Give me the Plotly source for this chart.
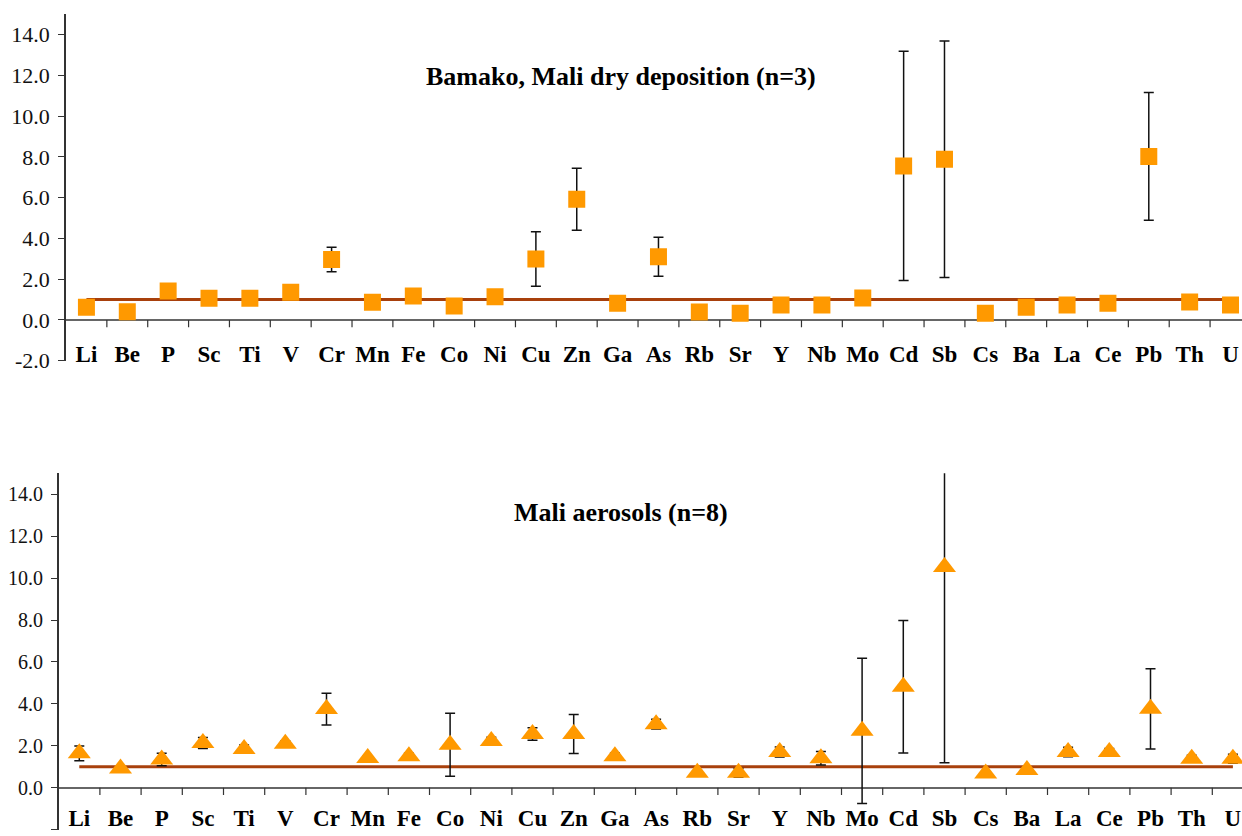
import plotly.graph_objects as go

elements = ["Li", "Be", "P", "Sc", "Ti", "V", "Cr", "Mn", "Fe", "Co", "Ni", "Cu", "Zn", "Ga", "As",
            "Rb", "Sr", "Y", "Nb", "Mo", "Cd", "Sb", "Cs", "Ba", "La", "Ce", "Pb", "Th", "U"]

dry_mean = [0.62, 0.41, 1.42, 1.06, 1.06, 1.36, 2.97, 0.87, 1.18, 0.69, 1.14, 2.99, 5.92, 0.82, 3.10,
            0.39, 0.33, 0.74, 0.74, 1.08, 7.55, 7.88, 0.33, 0.62, 0.74, 0.82, 8.02, 0.88, 0.74]
dry_err = [0.10, 0.10, 0.15, 0.10, 0.10, 0.15, 0.60, 0.10, 0.15, 0.10, 0.15, 1.34, 1.52, 0.10, 0.95,
           0.05, 0.05, 0.10, 0.10, 0.20, 5.62, 5.80, 0.05, 0.10, 0.10, 0.10, 3.13, 0.15, 0.10]

aer_mean = [1.64, 0.91, 1.34, 2.13, 1.84, 2.09, 3.75, 1.42, 1.50, 2.05, 2.23, 2.56, 2.56, 1.50, 3.03,
            0.71, 0.71, 1.70, 1.40, 2.71, 4.82, 10.53, 0.67, 0.84, 1.70, 1.70, 3.76, 1.38, 1.38]
aer_err = [0.35, 0.10, 0.30, 0.26, 0.20, 0.15, 0.76, 0.09, 0.14, 1.50, 0.17, 0.30, 0.93, 0.16, 0.23,
           0.10, 0.21, 0.24, 0.32, 3.46, 3.16, 9.34, 0.10, 0.10, 0.23, 0.17, 1.92, 0.17, 0.22]

reference_ratio = [1.0] * len(elements)

titles = ["Bamako, Mali dry deposition (n=3)", "Mali aerosols (n=8)"]
y_ticks = [-2.0, 0.0, 2.0, 4.0, 6.0, 8.0, 10.0, 12.0, 14.0]

ORANGE = "#FF9900"
LINE = "#A8400C"
W, H = 1242, 836
idx = list(range(len(elements)))

fig = go.Figure()

panels = [
    dict(mean=dry_mean, err=dry_err, symbol="square", size=17, xa="x", ya="y"),
    dict(mean=aer_mean, err=aer_err, symbol="triangle-up", size=20, xa="x2", ya="y2"),
]

for p in panels:
    fig.add_trace(go.Scatter(x=idx, y=reference_ratio, mode="lines",
                             line=dict(color=LINE, width=3), xaxis=p["xa"], yaxis=p["ya"],
                             showlegend=False, hoverinfo="skip"))
    fig.add_trace(go.Scatter(x=idx, y=p["mean"], mode="markers",
                             marker=dict(symbol=p["symbol"], size=p["size"], color=ORANGE,
                                         line=dict(width=0)),
                             error_y=dict(type="data", array=p["err"], visible=True,
                                          color="#111111", thickness=1.5, width=5),
                             xaxis=p["xa"], yaxis=p["ya"], showlegend=False))

# pixel geometry (screen px) -> paper domains
def px_x(p):
    return p / W

def px_y(p):
    return 1 - p / H

top_left, bot_left = 66.0, 58.7
top_w, bot_w = 40.86, 41.2
top_dom = [px_y(361.2), px_y(14.0)]
bot_dom = [px_y(830.0), px_y(473.3)]

xcommon = dict(tickmode="array", tickvals=idx, ticktext=["<b>" + e + "</b>" for e in elements],
               showline=False, showgrid=False, zeroline=False, ticks="",
               ticklabelposition="outside", automargin=False,
               tickfont=dict(family="Liberation Serif", size=23, color="#000000"))
ycommon = dict(range=[-2.02, 15], tickmode="array", tickvals=y_ticks,
               ticktext=[f"{v:.1f}" for v in y_ticks], showgrid=False, automargin=False,
               showline=True, linecolor="#333333", linewidth=1.5,
               ticks="outside", ticklen=6, tickcolor="#333333", tickwidth=1.2,
               ticklabelstandoff=4,
               zeroline=True, zerolinecolor="#666666", zerolinewidth=1.5)

fig.update_layout(
    width=W, height=H, margin=dict(l=0, r=0, t=0, b=0),
    paper_bgcolor="white", plot_bgcolor="white",
    xaxis=dict(domain=[px_x(top_left), 1], anchor="y", ticklabelstandoff=-23,
               range=[-0.5, (W - top_left) / top_w - 0.5], **xcommon),
    yaxis=dict(domain=top_dom, anchor="x",
               tickfont=dict(family="Liberation Serif", size=22, color="#111111"), **ycommon),
    xaxis2=dict(domain=[px_x(bot_left), 1], anchor="y2", ticklabelstandoff=-28,
                range=[-0.5, (W - bot_left) / bot_w - 0.5], **xcommon),
    yaxis2=dict(domain=bot_dom, anchor="x2",
                tickfont=dict(family="Liberation Serif", size=20, color="#111111"), **ycommon),
)

# category-boundary tick marks on the zero line
shapes = []
for xa, ya in (("x", "y"), ("x2", "y2")):
    for k in range(len(elements) - 1):
        shapes.append(dict(type="line", xref=xa, yref=ya, x0=k + 0.5, x1=k + 0.5,
                           y0=0, y1=-0.35, line=dict(color="#333333", width=1.2)))
fig.update_layout(shapes=shapes)

fig.add_annotation(text="<b>" + titles[0] + "</b>", xref="paper", yref="paper",
                   x=px_x(620.5), y=px_y(60), showarrow=False,
                   font=dict(family="Liberation Serif", size=26, color="#000000"))
fig.add_annotation(text="<b>" + titles[1] + "</b>", xref="paper", yref="paper",
                   x=px_x(620.5), y=px_y(512), showarrow=False,
                   font=dict(family="Liberation Serif", size=26, color="#000000"))

fig.write_html("out.html", config={"displayModeBar": False},
               post_script="document.body.style.margin='0';"
                           "document.body.style.overflow='hidden';")
